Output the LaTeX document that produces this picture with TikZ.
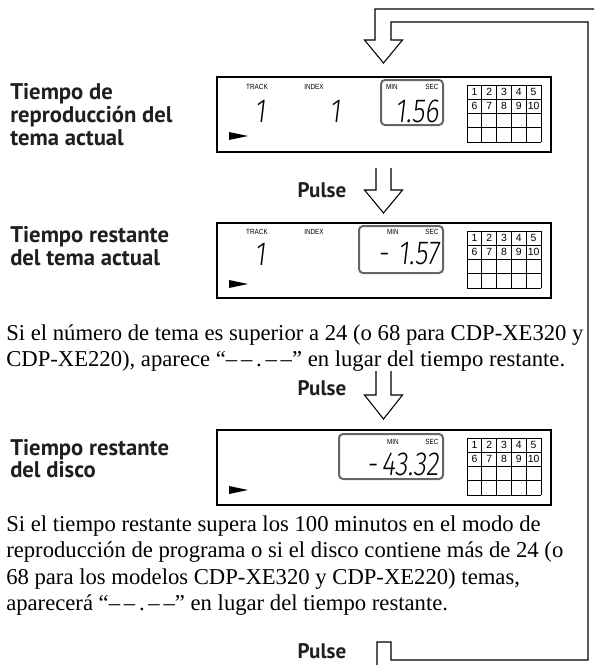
\documentclass[tikz,border=0pt]{standalone}
\usepackage{fontspec}
\setmainfont{Liberation Serif}
\newfontfamily\labelfont{PT Sans}
\newfontfamily\smallsans{Liberation Sans}[FakeStretch=0.85]
\newfontfamily\numfont{Liberation Sans}
\newfontfamily\lcdfont{Fira Sans Light}[FakeSlant=0.12,FakeStretch=0.8]
\newcommand\numgrid[1]{%
  \foreach \i in {0,...,5} \draw[cell] ({251+\i*14.8},9) -- ({251+\i*14.8},66);
  \foreach \j in {0,...,4} \draw[cell] (251,{9+\j*14.25}) -- (325,{9+\j*14.25});
  \foreach \n [count=\k from 0] in {1,...,5} \node[numtxt] (#1n\n) at ({258.4+\k*14.8},16.1) {\n};
  \foreach \n [count=\k from 0] in {6,...,10} \node[numtxt] (#1n\n) at ({258.4+\k*14.8},30.4) {\n};
}
\newcommand\dashes{“–\,–\,.\,–\,–”}
\begin{document}
\begin{tikzpicture}[x=0.75pt,y=-0.75pt,
  frame/.style={draw=black, line width=1.7pt, inner sep=0pt, anchor=north west, minimum width=250.5pt, minimum height=56.25pt},
  timebox/.style={draw=black!60, line width=1.5pt, rounded corners=3pt, inner sep=0pt, anchor=north west},
  cell/.style={draw=black, line width=0.6pt},
  lbl/.style={font=\labelfont\bfseries\fontsize{17}{20}\selectfont, anchor=base west, inner sep=0pt, text=black!88},
  pulse/.style={font=\labelfont\bfseries\fontsize{15.8}{18}\selectfont, anchor=base, inner sep=0pt, text=black!88},
  body/.style={font=\fontsize{17}{20}\selectfont, anchor=base west, inner sep=0pt, text=black},
  tiny/.style={font=\smallsans\fontsize{5.6}{6}\selectfont, inner sep=0pt},
  numtxt/.style={font=\numfont\fontsize{7.8}{8}\selectfont, inner sep=0pt},
  seg/.style={font=\lcdfont\fontsize{25}{25}\selectfont, inner sep=0pt},
  hollow/.style={draw=black, line width=0.8pt, line join=miter}]
\useasboundingbox (0,0) rectangle (594,665);
\clip (0,0) rectangle (594,665);
% loop pipe
\draw[hollow] (377,690) -- (377,642) -- (391,642) -- (391,660) -- (588,660) -- (588,22)
  -- (391,22) -- (391,40) -- (402.5,40) -- (383.5,63) -- (364.5,40) -- (375,40) -- (375,9)
  -- (602,9) -- (602,690);
% labels 1
\node[lbl] (la1) at (10,99) {Tiempo de};
\node[lbl] (la2) at (10,122) {reproducción del};
\node[lbl] (la3) at (10,145) {tema actual};
% display 1
\begin{scope}[shift={(216,76)}]
\node[frame] (d1) at (0,0) {};
\node[timebox, minimum width=46.5pt, minimum height=33.75pt] (t1) at (164,3) {};
\node[tiny] (tr1) at (41,11) {TRACK};
\node[tiny] (ix1) at (98,11) {INDEX};
\node[tiny] (mn1) at (176,11) {MIN};
\node[tiny] (sc1) at (216,11) {SEC};
\node[seg] (tn1) at (44,35) {1};
\node[seg] (in1) at (119,35) {1};
\node[seg, anchor=east] (tm1) at (223,35) {1.56};
\fill (13,56) -- (32,60) -- (13,64) -- cycle;
\numgrid{ga}
\end{scope}
% pulse 1
\node[pulse] (p1) at (322,197) {Pulse};
\draw[hollow] (376,168) -- (376,190) -- (364.5,190) -- (383.5,213) -- (402.5,190) -- (391,190) -- (391,168);
% labels 2
\node[lbl] (lb1) at (10,242) {Tiempo restante};
\node[lbl] (lb2) at (10,265) {del tema actual};
% display 2
\begin{scope}[shift={(216,222)}]
\node[frame] (d2) at (0,0) {};
\node[timebox, minimum width=63pt, minimum height=35.25pt] (t2) at (142,3) {};
\node[tiny] (tr2) at (41,10) {TRACK};
\node[tiny] (ix2) at (98,10) {INDEX};
\node[tiny] (mn2) at (177,10) {MIN};
\node[tiny] (sc2) at (216,10) {SEC};
\node[seg] (tn2) at (44,32) {1};
\node[seg, anchor=east] (tm2) at (223,32) {-\hspace{7pt}1.57};
\fill (13,58) -- (32,62) -- (13,66) -- cycle;
\numgrid{gb}
\end{scope}
% paragraph 1
\node[body] (pa1) at (6,340) {Si el número de tema es superior a 24 (o 68 para CDP-XE320 y};
\node[body] (pa2) at (6,366) {CDP-XE220), aparece \dashes{} en lugar del tiempo restante.};
% pulse 2
\node[pulse] (p2) at (322,395) {Pulse};
\draw[hollow] (376,371) -- (376,395) -- (364.5,395) -- (383.5,419) -- (402.5,395) -- (391,395) -- (391,371);
% labels 3
\node[lbl] (lc1) at (10,455) {Tiempo restante};
\node[lbl] (lc2) at (10,477) {del disco};
% display 3
\begin{scope}[shift={(216,429)}]
\node[frame] (d3) at (0,0) {};
\node[timebox, minimum width=78pt, minimum height=33.75pt] (t3) at (122,4) {};
\node[tiny] (mn3) at (177,13) {MIN};
\node[tiny] (sc3) at (216,13) {SEC};
\node[seg, anchor=east] (tm3) at (223,35) {-\hspace{3pt}43.32};
\fill (13,57) -- (32,61) -- (13,65) -- cycle;
\numgrid{gc}
\end{scope}
% paragraph 2
\node[body] (pb1) at (6,531) {Si el tiempo restante supera los 100 minutos en el modo de};
\node[body] (pb2) at (6,557.5) {reproducción de programa o si el disco contiene más de 24 (o};
\node[body] (pb3) at (6,584) {68 para los modelos CDP-XE320 y CDP-XE220) temas,};
\node[body] (pb4) at (6,610) {aparecerá \dashes{} en lugar del tiempo restante.};
% pulse 3
\node[pulse] (p3) at (322,658) {Pulse};
\end{tikzpicture}
\end{document}
